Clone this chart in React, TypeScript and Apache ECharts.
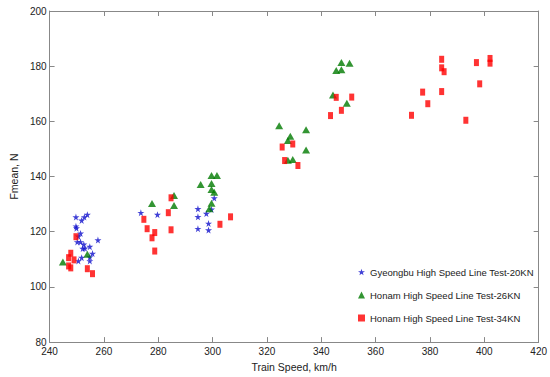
import React, { useEffect, useRef } from "react";
import * as echarts from "echarts";

const seriesNames = [
  "Gyeongbu High Speed Line Test-20KN",
  "Honam High Speed Line Test-26KN",
  "Honam High Speed Line Test-34KN",
];

const gyeongbu20: [number, number][] = [
  [249.7, 125.3], [249.7, 122.0], [249.9, 121.3], [251.8, 124.1], [252.8, 125.3], [253.9, 126.2],
  [251.4, 119.4], [250.6, 118.3], [250.2, 116.3], [251.4, 116.3], [252.6, 115.4], [252.2, 113.9],
  [253.0, 114.0], [254.8, 114.6], [257.8, 117.0], [255.8, 112.1], [254.8, 110.8], [254.8, 109.4],
  [251.8, 110.6], [250.6, 109.4],
  [273.6, 126.9], [279.7, 126.2],
  [294.6, 128.3], [294.6, 125.4], [294.6, 121.1], [297.7, 126.6], [298.5, 123.0], [298.5, 120.6],
  [299.6, 128.1], [300.6, 132.2],
];

const honam26: [number, number][] = [
  [244.9, 109.0], [253.9, 111.8],
  [277.7, 130.2], [285.8, 133.1], [285.8, 129.5],
  [295.6, 137.1], [299.6, 140.4], [301.6, 140.4], [299.6, 137.5], [299.6, 135.3], [300.6, 134.3],
  [299.6, 130.3], [298.8, 128.3],
  [324.5, 158.4], [334.4, 157.0], [328.6, 154.6], [327.7, 153.1], [334.4, 149.6], [327.7, 145.9],
  [329.5, 146.2],
  [347.4, 181.3], [350.4, 181.1], [345.5, 178.4], [347.4, 178.7], [344.3, 169.6], [349.4, 166.6],
];

const honam34: [number, number][] = [
  [249.7, 118.2], [247.8, 112.2], [247.0, 110.6], [249.0, 109.8], [247.0, 107.6], [247.8, 106.9],
  [253.9, 106.6], [255.8, 104.8],
  [284.7, 132.3], [283.7, 126.9], [274.7, 124.5], [275.9, 121.1], [278.7, 119.7], [277.7, 117.8],
  [284.7, 120.7], [278.7, 113.0],
  [306.6, 125.4], [302.7, 122.7],
  [325.6, 150.7], [329.5, 151.8], [326.5, 145.8], [331.4, 144.0],
  [345.5, 168.7], [351.2, 168.8], [347.4, 164.0], [343.4, 162.1],
  [384.3, 182.5], [402.1, 182.8], [402.1, 181.1], [397.1, 181.3], [384.3, 179.4], [385.2, 178.0],
  [398.3, 173.6], [377.3, 170.6], [384.3, 170.8], [379.2, 166.4], [373.2, 162.2], [393.2, 160.4],
];

const xTicks = { min: 240, max: 420, interval: 20 };
const yTicks = { min: 80, max: 200, interval: 20 };

const starPath =
  "path://M50,0 L61,35 L98,35 L68,57 L79,91 L50,70 L21,91 L32,57 L2,35 L39,35 Z";

export default function App() {
  const ref = useRef<HTMLDivElement>(null);
  useEffect(() => {
    document.body.style.margin = "0";
    if (!ref.current) return;
    const chart = echarts.init(ref.current, undefined, { renderer: "svg" });
    const axisColor = "#888";
    const font = "Liberation Sans";
    const baseAxis = {
      axisLine: { show: true, lineStyle: { color: axisColor, width: 1 } },
      axisTick: { show: true, inside: true, length: 5, lineStyle: { color: axisColor } },
      splitLine: { show: false },
    };
    chart.setOption({
      animation: false,
      backgroundColor: "#fff",
      textStyle: { fontFamily: font },
      grid: { left: 42, right: 10, top: 11, bottom: 34, containLabel: false },
      xAxis: [
        {
          type: "value",
          ...xTicks,
          ...baseAxis,
          position: "bottom",
          name: "Train Speed, km/h",
          nameLocation: "middle",
          nameGap: 11,
          nameTextStyle: { color: "#222", fontSize: 10.5, fontFamily: font },
          axisLabel: { color: "#222", fontSize: 10, margin: 4, fontFamily: font },
        },
        {
          type: "value",
          ...xTicks,
          ...baseAxis,
          position: "top",
          axisLabel: { show: false },
        },
      ],
      yAxis: [
        {
          type: "value",
          ...yTicks,
          ...baseAxis,
          position: "left",
          name: "Fmean, N",
          nameLocation: "middle",
          nameGap: 24,
          nameTextStyle: { color: "#222", fontSize: 10.5, fontFamily: font },
          axisLabel: { color: "#222", fontSize: 10, margin: 3, fontFamily: font },
        },
        {
          type: "value",
          ...yTicks,
          ...baseAxis,
          position: "right",
          axisLabel: { show: false },
        },
      ],
      legend: {
        orient: "vertical",
        left: 353,
        top: 262,
        itemGap: 13,
        itemWidth: 7,
        itemHeight: 7,
        textStyle: { fontSize: 9.5, color: "#222", fontFamily: font },
        data: seriesNames,
      },
      series: [
        {
          name: seriesNames[0],
          type: "scatter",
          data: gyeongbu20,
          symbol: starPath,
          symbolSize: 7,
          itemStyle: { color: "#1010cc" },
        },
        {
          name: seriesNames[1],
          type: "scatter",
          data: honam26,
          symbol: "triangle",
          symbolSize: [8, 7],
          itemStyle: { color: "#007a00" },
        },
        {
          name: seriesNames[2],
          type: "scatter",
          data: honam34,
          symbol: "rect",
          symbolSize: [5, 7],
          itemStyle: { color: "#ff0000" },
        },
      ],
    });
    return () => chart.dispose();
  }, []);
  return <div ref={ref} style={{ width: 550, height: 377 }} />;
}
